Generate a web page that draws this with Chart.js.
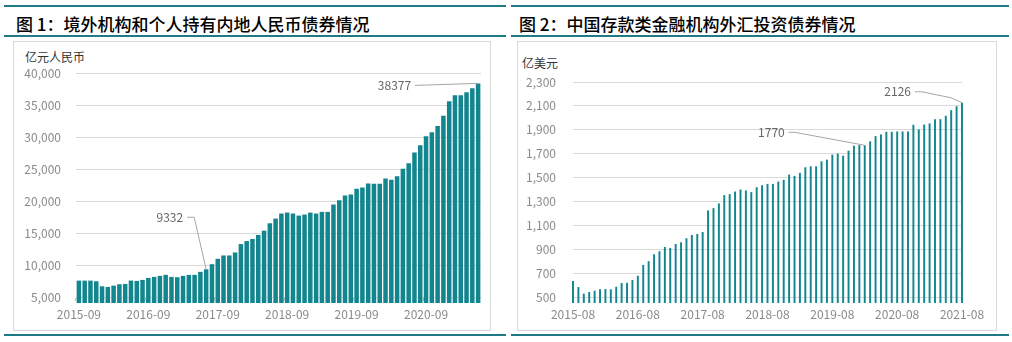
<!DOCTYPE html>
<html>
<head>
<meta charset="utf-8">
<script src="https://cdn.jsdelivr.net/npm/chart.js@4.4.0/dist/chart.umd.min.js"></script>
<style>
body { margin: 0; background: #fff; width: 1012px; height: 342px; position: relative; overflow: hidden; font-family: "Noto Sans CJK SC", sans-serif; }
.rule { position: absolute; height: 2px; background: #1e7b85; }
.title { position: absolute; top: 11px; font-size: 17px; font-weight: 500; color: #000; white-space: nowrap; }
.box { position: absolute; top: 41px; height: 288px; border: 1px solid #d9d9d9; }
.unit { position: absolute; font-size: 12px; color: #333; white-space: nowrap; }
canvas { position: absolute; top: 42px; }
</style>
</head>
<body>

<div class="rule" style="left:4px; top:5px; width:502px;"></div>
<div class="title" style="left:16px;">图 1：境外机构和个人持有内地人民币债券情况</div>
<div class="rule" style="left:4px; top:35px; width:502px;"></div>
<div class="box" style="left:13px; width:476px;"></div>
<div class="unit" style="left:25px; top:48px;">亿元人民币</div>
<canvas id="chart-left" width="476" height="288" style="left:14px;"></canvas>
<div class="rule" style="left:4px; top:334px; width:502px;"></div>

<div class="rule" style="left:511px; top:5px; width:498px;"></div>
<div class="title" style="left:519px;">图 2：中国存款类金融机构外汇投资债券情况</div>
<div class="rule" style="left:511px; top:35px; width:498px;"></div>
<div class="box" style="left:517px; width:478px;"></div>
<div class="unit" style="left:522px; top:54px;">亿美元</div>
<canvas id="chart-right" width="478" height="288" style="left:518px;"></canvas>
<div class="rule" style="left:511px; top:334px; width:498px;"></div>

<script>
// 境外机构和个人持有内地人民币债券, 亿元, 2015-09 起按月
const leftStart = '2015-09';
const leftValues = [
    7560, 7560, 7560, 7460, 6680, 6570, 6780, 6990, 7040, 7570,
    7510, 7670, 7980, 8140, 8300, 8460, 8140, 8090, 8300, 8460,
    8460, 8930, 9332, 10130, 10970, 11490, 11490, 11960, 13270, 13740,
    14060, 14690, 15370, 16520, 17250, 18040, 18190, 18040, 17720, 17880,
    18190, 18040, 18300, 18300, 19450, 20130, 20860, 21020, 21910, 22120,
    22750, 22700, 22700, 23530, 23320, 23850, 25050, 25890, 27570, 28720,
    30130, 30760, 31700, 33320, 35580, 36520, 36520, 36990, 37620, 38377
];
const leftTicks = ['2015-09', '2016-09', '2017-09', '2018-09', '2019-09', '2020-09'];

// 存款类金融机构外汇投资债券, 亿美元, 2015-08 起按月
const rightStart = '2015-08';
const rightValues = [
    633, 583, 528, 542, 553, 564, 567, 564, 586, 617,
    619, 642, 678, 769, 800, 858, 883, 919, 911, 944,
    958, 992, 1019, 1028, 1044, 1225, 1244, 1283, 1353, 1361,
    1383, 1400, 1392, 1378, 1419, 1436, 1447, 1447, 1467, 1481,
    1525, 1514, 1539, 1586, 1594, 1594, 1636, 1650, 1692, 1700,
    1683, 1725, 1767, 1772, 1770, 1803, 1847, 1861, 1883, 1883,
    1886, 1886, 1886, 1942, 1903, 1944, 1953, 1989, 1989, 2017,
    2064, 2097, 2126
];
const rightTicks = ['2015-08', '2016-08', '2017-08', '2018-08', '2019-08', '2020-08', '2021-08'];

const BAR_COLOR = '#12868e';
const GRID_COLOR = '#d9d9d9';
const TICK_COLOR = '#8a8a8a';

Chart.defaults.font.family = '"Noto Sans CJK SC", sans-serif';
Chart.defaults.font.size = 12;
Chart.defaults.color = TICK_COLOR;


function monthRange(start, count) {
    let [y, m] = start.split('-').map(Number);
    const out = [];
    for (let i = 0; i < count; i++) {
        out.push(y + '-' + String(m).padStart(2, '0'));
        m++;
        if (m > 12) { m = 1; y++; }
    }
    return out;
}

// value labels with a grey leader line back to the bar top
function makeCallouts(items) {
    return {
        id: 'callouts',
        afterDatasetsDraw(chart) {
            const ctx = chart.ctx;
            const meta = chart.getDatasetMeta(0);
            const values = chart.data.datasets[0].data;
            ctx.save();
            ctx.font = '12px "Noto Sans CJK SC"';
            ctx.fillStyle = '#666';
            ctx.strokeStyle = '#a6a6a6';
            ctx.lineWidth = 1;
            ctx.textAlign = 'right';
            ctx.textBaseline = 'middle';
            items.forEach(item => {
                const bar = meta.data[item.index];
                const tx = bar.x + item.dx;
                const ty = bar.y + item.dy;
                ctx.fillText(String(values[item.index]), tx, ty);
                ctx.beginPath();
                ctx.moveTo(tx + 4, ty);
                ctx.lineTo(tx + 4 + item.stub, ty);
                if (item.via) ctx.lineTo(bar.x + item.via[0], bar.y + item.via[1]);
                ctx.lineTo(bar.x, bar.y);
                ctx.stroke();
            });
            ctx.restore();
        }
    };
}


function drawChart(id, cfg) {
    const labels = monthRange(cfg.start, cfg.values.length);

    const xScale = {
        offset: cfg.offset,
        grid: {
            offset: cfg.offset,
            drawOnChartArea: false,
            tickLength: 4,
            tickColor: (c) => (c.index < labels.length && c.index % 12 === 0) ? '#bfbfbf' : 'rgba(0,0,0,0)'
        },
        border: { display: true, color: GRID_COLOR },
        ticks: {
            autoSkip: false,
            maxRotation: 0,
            padding: 6,
            color: TICK_COLOR,
            callback: (v, i) => cfg.ticks.includes(labels[i]) ? labels[i] : ''
        }
    };

    const yScale = {
        min: cfg.min,
        max: cfg.max,
        afterFit: (s) => { s.width = cfg.yWidth; },
        grid: { color: GRID_COLOR, drawTicks: false },
        border: { display: false },
        ticks: {
            stepSize: cfg.step,
            padding: cfg.yPad,
            color: TICK_COLOR,
            callback: (v) => v.toLocaleString('en-US')
        }
    };

    new Chart(document.getElementById(id).getContext('2d'), {
        type: 'bar',
        data: {
            labels: labels,
            datasets: [{
                data: cfg.values,
                backgroundColor: BAR_COLOR,
                categoryPercentage: 1,
                barPercentage: cfg.barPct,
                clip: 6
            }]
        },
        options: {
            responsive: false,
            animation: false,
            devicePixelRatio: 1,
            layout: { padding: cfg.padding },
            plugins: {
                legend: { display: false },
                tooltip: { enabled: false }
            },
            scales: { x: xScale, y: yScale }
        },
        plugins: [makeCallouts(cfg.callouts)]
    });
}


drawChart('chart-left', {
    start: leftStart,
    values: leftValues,
    ticks: leftTicks,
    min: 5000, max: 40000, step: 5000,
    offset: true,
    barPct: 0.78,
    yWidth: 62, yPad: 15,
    padding: { top: 31, right: 9, bottom: 2.6, left: 0 },
    callouts: [
        { index: 22, dx: -23, dy: -52, stub: 7 },
        { index: 69, dx: -67, dy: 2, stub: 0 }
    ]
});

drawChart('chart-right', {
    start: rightStart,
    values: rightValues,
    ticks: rightTicks,
    min: 500, max: 2300, step: 200,
    offset: false,
    barPct: 0.36,
    yWidth: 55, yPad: 17,
    padding: { top: 40, right: 34, bottom: 2.6, left: 0 },
    callouts: [
        { index: 54, dx: -80, dy: -13, stub: 6 },
        { index: 72, dx: -51, dy: -11, stub: 7, via: [-11, -5] }
    ]
});
</script>
</body>
</html>
